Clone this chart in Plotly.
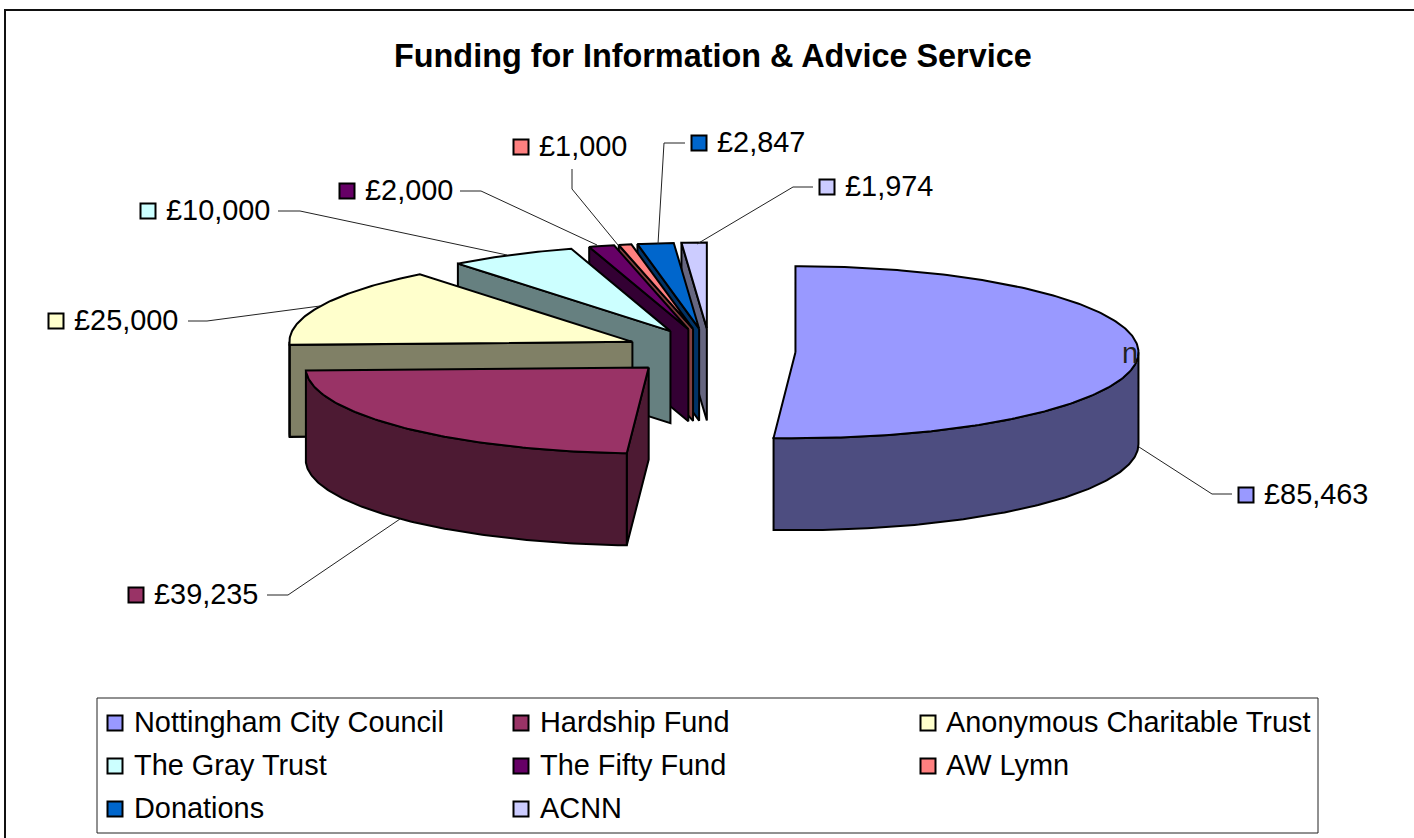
import math
import plotly.graph_objects as go

# ---- data ----
TITLE = "Funding for Information & Advice Service"
names = ["Nottingham City Council", "Hardship Fund", "Anonymous Charitable Trust", "The Gray Trust",
         "The Fifty Fund", "AW Lymn", "Donations", "ACNN"]
values = [85463, 39235, 25000, 10000, 2000, 1000, 2847, 1974]
top_colors = ["#9999FF", "#993366", "#FFFFCC", "#CCFFFF", "#660066", "#FF8080", "#0066CC", "#CCCCFF"]
side_colors = ["#4D4D80", "#4D1A33", "#808066", "#668080", "#330033", "#804040", "#003366", "#666680"]

# ---- layout constants (page pixels) ----
W, H = 1414, 838
CX, CY, RX, RY, DEPTH = 710, 351.5, 343, 86, 92
EXPLODE_X, EXPLODE_Y = 85.5, 23
LINE = 2
BLACK = "#000000"
FONT = "Liberation Sans, Arial, sans-serif"
LABEL_SIZE = 28.9

label_swatch = [(1246, 495), (136, 595), (56, 321), (148, 211), (347, 191), (521, 147), (699, 143), (827, 187)]
label_leader = [
    [(1139, 447), (1212, 494), (1232, 494)],
    [(400, 519), (288, 595), (267, 595)],
    [(320, 306), (207, 321), (188, 321)],
    [(507, 255), (300, 211), (278, 211)],
    [(597, 245), (481, 191), (460, 191)],
    [(618, 245), (572, 189), (572, 169)],
    [(658, 244), (664, 143), (685, 143)],
    [(697, 244), (793, 187), (813, 187)],
]
legend_cols = [(115, 134), (521, 540), (928, 946)]
legend_rows = [723, 766, 809]

total = sum(values)
slices = []
a = 0.0
for i, v in enumerate(values):
    span = 360.0 * v / total
    slices.append((i, a, a + span))
    a += span


def rim(ax, ay, deg, dz=0.0):
    r = math.radians(deg)
    return ax + RX * math.sin(r), ay - RY * math.cos(r) + dz


def arc(ax, ay, a0, a1, dz=0.0):
    n = max(2, int(abs(a1 - a0) / 0.75) + 1)
    return [rim(ax, ay, a0 + (a1 - a0) * k / n, dz) for k in range(n + 1)]


def poly(pts, color, name, show=False):
    xs = [p[0] for p in pts] + [pts[0][0]]
    ys = [p[1] for p in pts] + [pts[0][1]]
    return go.Scatter(x=xs, y=ys, mode="lines", fill="toself", fillcolor=color,
                      line=dict(color=BLACK, width=LINE), name=name, showlegend=show,
                      hoverinfo="name")


fig = go.Figure()

# draw order: far slices first, nearest (Hardship) last
order = [0, 7, 6, 5, 4, 3, 2, 1]
for i in order:
    _, a0, a1 = slices[i]
    mid = math.radians((a0 + a1) / 2)
    ax = CX + EXPLODE_X * math.sin(mid)
    ay = CY - EXPLODE_Y * math.cos(mid)
    # radial cut face, visible on left-hand slices
    if a0 >= 180:
        s = rim(ax, ay, a0)
        fig.add_trace(poly([(ax, ay), s, (s[0], s[1] + DEPTH), (ax, ay + DEPTH)], side_colors[i], names[i]))
    # outer curved face, visible on the front half
    f0, f1 = max(a0, 90), min(a1, 270)
    if f1 > f0:
        upper = arc(ax, ay, f0, f1)
        lower = arc(ax, ay, f1, f0, DEPTH)
        fig.add_trace(poly(upper + lower, side_colors[i], names[i]))
    # top face
    fig.add_trace(poly([(ax, ay)] + arc(ax, ay, a0, a1), top_colors[i], names[i]))

annotations = []


def text(x, y, s, size, anchor="left", bold=False, color=BLACK):
    annotations.append(dict(x=x, y=y, xref="x", yref="y", text=f"<b>{s}</b>" if bold else s, showarrow=False,
                            xanchor=anchor, yanchor="middle", borderpad=0, borderwidth=0,
                            font=dict(family=FONT, size=size, color=color)))


# leader lines, data labels
for i, v in enumerate(values):
    path = label_leader[i]
    fig.add_trace(go.Scatter(x=[p[0] for p in path], y=[p[1] for p in path], mode="lines",
                             line=dict(color="#222222", width=1), showlegend=False, hoverinfo="skip"))
    sx, sy = label_swatch[i]
    fig.add_trace(go.Scatter(x=[sx], y=[sy], mode="markers", showlegend=False, hoverinfo="skip",
                             marker=dict(symbol="square", size=15, color=top_colors[i],
                                         line=dict(color=BLACK, width=2))))
    text(sx + 18, sy - 1, f"£{v:,}", LABEL_SIZE)

# legend laid out in three columns
for i, nm in enumerate(names):
    col = legend_cols[i % 3]
    row = legend_rows[i // 3]
    fig.add_trace(go.Scatter(x=[col[0]], y=[row], mode="markers", showlegend=False, hoverinfo="skip",
                             marker=dict(symbol="square", size=15, color=top_colors[i],
                                         line=dict(color=BLACK, width=2))))
    text(col[1], row - 1, nm, LABEL_SIZE)

text(712.5, 55.5, TITLE, 32.4, anchor="center", bold=True)
text(1130, 353, "n", LABEL_SIZE, anchor="center", color="#222222")

shapes = [
    dict(type="rect", xref="x", yref="y", x0=5, y0=10, x1=W + 20, y1=H + 20,
         line=dict(color="#111111", width=2), layer="below"),
    dict(type="rect", xref="x", yref="y", x0=97, y0=698, x1=1318, y1=833,
         line=dict(color="#222222", width=1), layer="below"),
]

fig.update_layout(
    width=W, height=H, autosize=False, margin=dict(l=0, r=0, t=0, b=0),
    paper_bgcolor="#FFFFFF", plot_bgcolor="#FFFFFF", showlegend=False,
    xaxis=dict(range=[0, W], visible=False, fixedrange=True),
    yaxis=dict(range=[H, 0], visible=False, fixedrange=True),
    annotations=annotations, shapes=shapes,
)
fig.write_html("out.html", config={"displayModeBar": False},
               post_script="document.body.style.margin='0';document.body.style.overflow='hidden';")
